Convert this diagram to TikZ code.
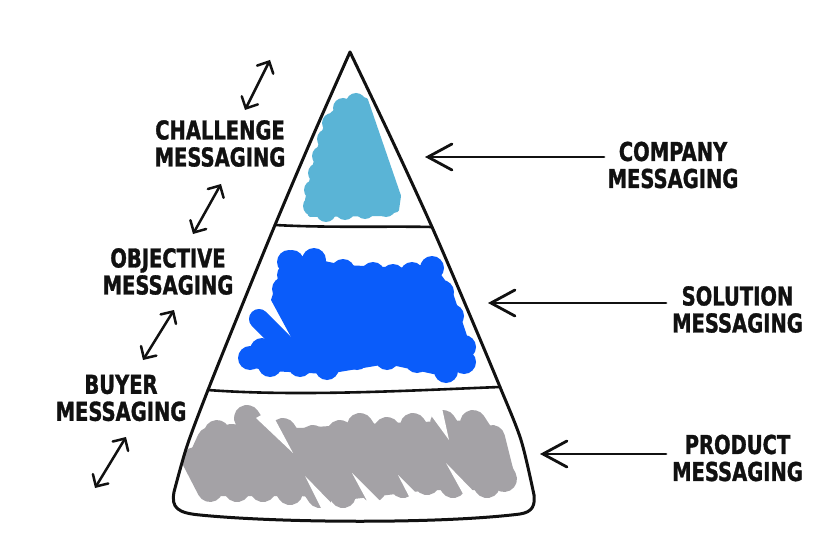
\documentclass[tikz,border=0pt]{standalone}
\usepackage{fontspec}
\newfontfamily\lbl{DejaVu Sans}[FakeStretch=0.75,BoldFeatures={FakeBold=1.2}]
\usetikzlibrary{arrows.meta}
\definecolor{lblue}{HTML}{5AB4D6}
\definecolor{dblue}{HTML}{0A5CFA}
\definecolor{mgray}{HTML}{A4A2A6}
\definecolor{ink}{HTML}{111111}
\begin{document}
\begin{tikzpicture}[x=1pt,y=-1pt,
  label/.style={font=\lbl\bfseries\fontsize{26}{27}\selectfont, align=center, inner sep=0pt, text=ink},
  outline/.style={draw=ink, line width=3pt, line cap=round, line join=round},
  divider/.style={draw=ink, line width=2.6pt, line cap=round},
  pointer/.style={draw=ink, line width=2.8pt, line cap=round, -{Straight Barb[length=24pt,width=26pt,line cap=round]}},
  link/.style={draw=ink, line width=2.5pt, line cap=round, {Straight Barb[length=9pt,width=18pt,line cap=round]}-{Straight Barb[length=9pt,width=18pt,line cap=round]}},
  blob/.style={line cap=round, line join=round},
  slit/.style={fill=white}]
\useasboundingbox[fill=white] (0,0) rectangle (832,556);

% ---- light blue (top) ----
\fill[lblue, draw=lblue, line width=4pt, blob] (357,97) -- (366,100) -- (399,196) -- (397,210) -- (383,214) -- (310,215) -- (307,200) -- (316,160) -- (328,118) -- (345,102) -- cycle;
\foreach \p in {(313,206),(314,190),(318,173),(322,156),(327,139),(332,123),(343,108),(356,103),(326,212),(345,210),(365,209),(386,207)}
  \fill[lblue] \p circle (10);

% ---- blue (middle) ----
\fill[dblue, blob] (292,254) -- (343,265) -- (410,268) -- (432,262) -- (452,290) -- (471,348) -- (470,364) -- (447,377) -- (387,364) -- (327,374) -- (270,371) -- (243,366) -- (262,348) -- (291,337) -- (271,300) -- (283,262) -- cycle;
\foreach \p in {(292,262),(314,260),(343,271),(373,274),(393,276),(412,274),(432,268),(442,292),(452,316),(464,347),(464,362),(446,371),(417,361),(387,358),(357,358),(327,368),(300,365),(270,365),(250,358),(262,350),(284,289),(289,275),(289,262)}
  \fill[dblue] \p circle (12);
\fill[dblue] (300,280) rectangle (440,350);
\draw[dblue, line width=20pt, blob] (259,319) -- (292,352);

% ---- gray (bottom) ----
\fill[mgray, blob] (207,430) -- (230,424) -- (300,428) -- (360,424) -- (480,420) -- (500,440) -- (507,480) -- (490,490) -- (430,490) -- (345,500) -- (300,496) -- (210,496) -- (195,480) -- (198,455) -- cycle;
\foreach \a/\b in {{(217,433)}/{(232,462)},{(247,418)}/{(269,451)},{(283,431)}/{(305,464)},{(313,438)}/{(335,471)},{(340,433)}/{(362,466)},{(360,426)}/{(382,459)},{(387,430)}/{(409,463)},{(413,426)}/{(435,459)},{(443,423)}/{(465,456)},{(473,423)}/{(492,452)},{(492,438)}/{(500,470)}}
  \draw[mgray, line width=26pt, blob] \a -- \b;
\foreach \a/\b in {{(200,462)}/{(210,440)},{(210,489)}/{(195,460)},{(237,489)}/{(215,456)},{(263,489)}/{(241,456)},{(290,492)}/{(268,459)},{(320,495)}/{(298,462)},{(343,495)}/{(321,462)},{(373,489)}/{(351,456)},{(403,485)}/{(381,452)},{(427,482)}/{(405,449)},{(453,485)}/{(431,452)},{(487,485)}/{(465,452)},{(504,479)}/{(490,452)}}
  \draw[mgray, line width=26pt, blob] \a -- \b;
% white scribble slits
\fill[slit] (305,476) -- (324,514) -- (338,510) -- cycle;
\fill[slit] (352,473) -- (372,510) -- (385,506) -- cycle;
\fill[slit] (398,475) -- (414,506) -- (426,503) -- cycle;
\fill[slit] (446,463) -- (467,501) -- (480,498) -- cycle;
\fill[slit] (293,453) -- (256,418) -- (270,410) -- cycle;
\fill[slit] (449,440) -- (430,414) -- (442,408) -- cycle;

% ---- pyramid ----
\coordinate (apex) at (350,52);
\coordinate (d1l) at (275,225);
\coordinate (d1r) at (432,227);
\coordinate (d2l) at (208,390);
\coordinate (d2r) at (500,387);
\draw[outline] plot[smooth] coordinates {(350,52) (312,138) (275,225) (241,308) (208,390) (187,446) (174,492)}
  .. controls (171,508) and (178,513) .. (200,515)
  .. controls (280,523) and (440,524) .. (520,514)
  .. controls (533,512) and (535,505) .. (534,495);
\draw[outline] plot[smooth] coordinates {(534,495) (521,440) (500,387) (466,306) (432,227) (392,140) (350,52)};
\draw[divider] (d1l) .. controls (330,228) and (390,226) .. (d1r);
\draw[divider] (d2l) .. controls (300,397) and (420,390) .. (d2r);

% ---- labels ----
\node[label] (challenge) at (220,143.5) {CHALLENGE\\MESSAGING};
\node[label] (objective) at (168,271.5) {OBJECTIVE\\MESSAGING};
\node[label] (buyer) at (121,398) {BUYER\\MESSAGING};
\node[label] (company) at (673,165) {COMPANY\\MESSAGING};
\node[label] (solution) at (737.5,309.5) {SOLUTION\\MESSAGING};
\node[label] (product) at (737.5,458) {PRODUCT\\MESSAGING};

% ---- right pointers ----
\coordinate (cs) at (604,157);
\coordinate (ct) at (425,157);
\coordinate (ss) at (666,303);
\coordinate (st) at (488,303);
\coordinate (ps) at (666,454);
\coordinate (pt) at (540,454);
\draw[pointer] (cs) -- (ct);
\draw[pointer] (ss) -- (st);
\draw[pointer] (ps) -- (pt);

% ---- left double arrows ----
\coordinate (a1s) at (270,60);
\coordinate (a1e) at (245,110);
\coordinate (a2s) at (221,184);
\coordinate (a2e) at (193,234);
\coordinate (a3s) at (174,310);
\coordinate (a3e) at (143,360);
\coordinate (a4s) at (126,437);
\coordinate (a4e) at (95,488);
\draw[link] (a1s) -- (a1e);
\draw[link] (a2s) -- (a2e);
\draw[link] (a3s) -- (a3e);
\draw[link] (a4s) -- (a4e);
\end{tikzpicture}
\end{document}
